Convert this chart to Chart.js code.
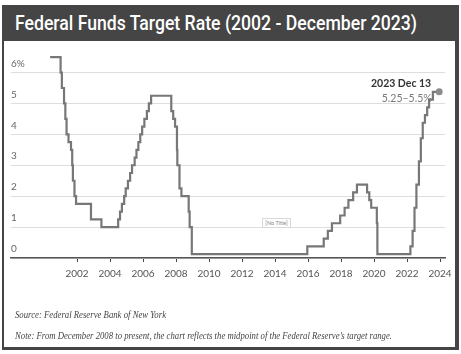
<!DOCTYPE html>
<html>
<head>
<meta charset="utf-8">
<script src="https://cdn.jsdelivr.net/npm/chart.js@4.4.1/dist/chart.umd.min.js"></script>
<style>
  html, body { margin: 0; padding: 0; background: #fff; }
  body { width: 461px; height: 354px; position: relative; overflow: hidden; }
  #frame { position: absolute; left: 2px; top: 5px; width: 457px; height: 345px; background: #454545; }
  #inner { position: absolute; left: 4px; top: 41px; width: 451px; height: 306px; background: #fff; }
  #title { position: absolute; left: 15px; top: 5px; height: 36px; line-height: 37px; color: #fff;
           font-family: Roboto, "Open Sans", sans-serif; font-weight: 500; font-size: 21px;
           white-space: nowrap; transform-origin: 0 50%; }
  canvas { position: absolute; left: 0; top: 0; }
  .fn { position: absolute; left: 15px; font-family: "Liberation Serif", serif; font-style: italic;
        font-size: 9.5px; color: #444; white-space: nowrap; transform-origin: 0 50%; line-height: 12px; }
  #src { top: 309px; }
  #note { top: 330px; }
  #notitle { position: absolute; left: 262px; top: 218px; width: 27px; height: 8px; border: 1px solid #d8d8d8;
             font-family: Lato, sans-serif; font-size: 5.5px; line-height: 8px; color: #888; text-align: center; background: #fff; }
</style>
</head>
<body>
<div id="frame"></div>
<div id="inner"></div>
<div id="title">Federal Funds Target Rate (2002 - December 2023)</div>
<canvas id="c" width="461" height="354"></canvas>
<div id="notitle">[No Title]</div>
<div class="fn" id="src">Source: Federal Reserve Bank of New York</div>
<div class="fn" id="note">Note: From December 2008 to present, the chart reflects the midpoint of the Federal Reserve’s target range.</div>
<script>
// ---- data ----
const changeDates = [
  '2000-05-16','2001-01-03','2001-01-31','2001-03-20','2001-04-18','2001-05-15','2001-06-27',
  '2001-08-21','2001-09-17','2001-10-02','2001-11-06','2001-12-11','2002-11-06','2003-06-25',
  '2004-06-30','2004-08-10','2004-09-21','2004-11-10','2004-12-14','2005-02-02','2005-03-22',
  '2005-05-03','2005-06-30','2005-08-09','2005-09-20','2005-11-01','2005-12-13','2006-01-31',
  '2006-03-28','2006-05-10','2006-06-29','2007-09-18','2007-10-31','2007-12-11','2008-01-22',
  '2008-01-30','2008-03-18','2008-04-30','2008-10-08','2008-10-29','2008-12-16','2015-12-16',
  '2016-12-14','2017-03-15','2017-06-14','2017-12-13','2018-03-21','2018-06-13','2018-09-26',
  '2018-12-19','2019-07-31','2019-09-18','2019-10-30','2020-03-03','2020-03-15','2022-03-16',
  '2022-05-04','2022-06-15','2022-07-27','2022-09-21','2022-11-02','2022-12-14','2023-02-01',
  '2023-03-22','2023-05-03','2023-07-26','2023-12-13'
];
const targetRates = [
  6.5, 6.0, 5.5, 5.0, 4.5, 4.0, 3.75,
  3.5, 3.0, 2.5, 2.0, 1.75, 1.25, 1.0,
  1.25, 1.5, 1.75, 2.0, 2.25, 2.5, 2.75,
  3.0, 3.25, 3.5, 3.75, 4.0, 4.25, 4.5,
  4.75, 5.0, 5.25, 4.75, 4.5, 4.25, 3.5,
  3.0, 2.25, 2.0, 1.5, 1.0, 0.125, 0.375,
  0.625, 0.875, 1.125, 1.375, 1.625, 1.875, 2.125,
  2.375, 2.125, 1.875, 1.625, 1.125, 0.125, 0.375,
  0.875, 1.625, 2.375, 3.125, 3.875, 4.375, 4.625,
  4.875, 5.125, 5.375, 5.375
];
const xTickYears = [2002, 2004, 2006, 2008, 2010, 2012, 2014, 2016, 2018, 2020, 2022, 2024];
const yTickValues = [0, 1, 2, 3, 4, 5, 6];
const yTickLabels = ['0', '1', '2', '3', '4', '5', '6%'];
const endLabelDate = '2023 Dec 13';
const endLabelRange = '5.25–5.5%';

function toYear(s) {
  const d = new Date(s + 'T00:00:00Z');
  const y = d.getUTCFullYear();
  const a = Date.UTC(y, 0, 1), b = Date.UTC(y + 1, 0, 1);
  return y + (d.getTime() - a) / (b - a);
}
const points = changeDates.map((d, i) => ({ x: toYear(d), y: targetRates[i] }));

// fit text widths
function fitWidth(id, w) {
  const el = document.getElementById(id);
  const r = el.getBoundingClientRect().width;
  el.style.transform = 'scaleX(' + (w / r) + ')';
}
fitWidth('title', 402);
fitWidth('src', 151);
fitWidth('note', 377);

const endLabel = {
  id: 'endLabel',
  afterDatasetsDraw(chart) {
    const meta = chart.getDatasetMeta(0);
    const p = meta.data[meta.data.length - 1];
    const ctx = chart.ctx;
    ctx.save();
    ctx.textAlign = 'right';
    ctx.textBaseline = 'middle';
    ctx.font = 'bold 10.5px Lato, sans-serif';
    ctx.fillStyle = '#333';
    ctx.fillText(endLabelDate, p.x - 8, p.y - 8.5);
    ctx.font = '10.5px Lato, sans-serif';
    ctx.fillStyle = '#7a7a7a';
    ctx.fillText(endLabelRange, p.x - 7.5, p.y + 7);
    ctx.restore();
  }
};

new Chart(document.getElementById('c'), {
  type: 'line',
  data: {
    datasets: [{
      data: points,
      stepped: 'before',
      borderColor: '#777',
      borderWidth: 2.2,
      fill: false,
      pointRadius: ctx => ctx.dataIndex === points.length - 1 ? 3.5 : 0,
      pointBackgroundColor: '#8c8c8c',
      pointBorderWidth: 0
    }]
  },
  options: {
    responsive: false,
    animation: false,
    layout: { padding: { left: 11, right: 16, top: 54, bottom: 68 } },
    plugins: { legend: { display: false }, tooltip: { enabled: false } },
    scales: {
      x: {
        type: 'linear',
        min: 1998,
        max: 2024.3,
        afterBuildTicks: axis => { axis.ticks = xTickYears.map(v => ({ value: v })); },
        ticks: {
          autoSkip: false, maxRotation: 0, padding: 6,
          color: '#555', font: { family: 'Lato', size: 10 },
          callback: v => String(v)
        },
        grid: { drawOnChartArea: false, drawTicks: true, tickLength: 4, color: '#444', lineWidth: 1 },
        border: { display: true, color: '#555', width: 1.5 }
      },
      y: {
        min: 0,
        max: 6.6,
        afterBuildTicks: axis => { axis.ticks = yTickValues.map(v => ({ value: v })); },
        ticks: {
          mirror: true, padding: 0, labelOffset: -9,
          color: '#666', font: { family: 'Lato', size: 10 },
          callback: v => yTickLabels[yTickValues.indexOf(v)]
        },
        grid: { color: '#dedede', drawTicks: false, lineWidth: 1 },
        border: { display: false }
      }
    }
  },
  plugins: [endLabel]
});
</script>
</body>
</html>
